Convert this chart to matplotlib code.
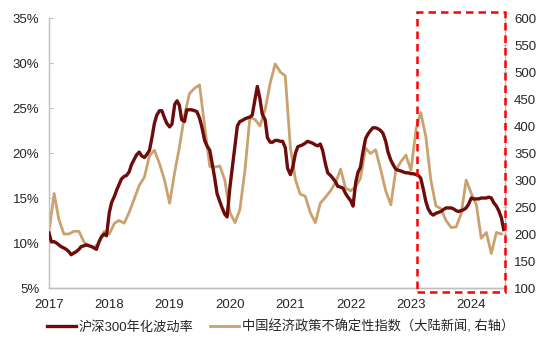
import matplotlib
matplotlib.use("Agg")
import matplotlib.pyplot as plt
import matplotlib.dates as mdates
import matplotlib.transforms as mtransforms
from matplotlib.patches import Rectangle
import pandas as pd

plt.rcParams['font.family'] = ['Liberation Sans', 'Noto Sans CJK SC', 'DejaVu Sans']

# 沪深300年化波动率, semi-monthly, %
vol = [11.1, 10.15, 10.15, 10.0, 9.8, 9.6, 9.45, 9.3, 9.05, 8.7,
       8.9, 9.04, 9.3, 9.6, 9.7, 9.78, 9.7, 9.6, 9.45, 9.3,
       10.2, 10.7, 11.0, 10.8, 13.4, 14.5, 15.2, 15.9, 16.5, 17.1,
       17.4, 17.5, 17.9, 18.7, 19.3, 19.8, 20.1, 19.7, 19.5, 19.8,
       20.3, 21.6, 23.3, 24.2, 24.7, 24.7, 23.9, 23.3, 22.9, 23.2,
       25.4, 25.8, 25.3, 23.7, 23.5, 24.8, 24.8, 24.8, 24.7, 24.6,
       23.9, 22.9, 21.4, 20.8, 20.3, 18.9, 17.2, 15.5, 14.6, 13.9,
       13.2, 12.9, 16.2, 18.3, 20.8, 23.0, 23.5, 23.6, 23.8, 23.9,
       24.0, 24.2, 26.0, 27.4, 26.0, 24.3, 23.7, 21.7, 21.2, 21.2,
       21.4, 21.4, 21.3, 21.3, 20.6, 18.3, 17.6, 18.4, 20.0, 20.7,
       20.8, 20.9, 21.1, 21.3, 21.2, 21.1, 20.9, 20.8, 21.0, 20.3,
       18.8, 17.8, 17.5, 17.2, 16.8, 16.3, 16.2, 16.1, 15.5, 15.1,
       14.7, 14.1, 16.8, 17.9, 18.4, 20.0, 21.6, 22.1, 22.5, 22.8,
       22.8, 22.7, 22.5, 22.2, 21.3, 20.1, 19.2, 18.7, 18.2, 18.1,
       18.0, 17.9, 17.8, 17.8, 17.7, 17.7, 17.6, 17.5, 17.2, 16.1,
       14.6, 13.8, 13.3, 13.1, 13.3, 13.4, 13.5, 13.7, 13.9, 13.9,
       13.9, 13.8, 13.6, 13.5, 13.6, 13.7, 13.9, 14.3, 15.0, 14.9,
       14.9, 14.9, 15.0, 15.0, 15.0, 15.1, 15.0, 14.5, 14.1, 13.6,
       12.8, 11.5]

# 中国经济政策不确定性指数（大陆新闻）, monthly
epu = [205, 275, 228, 200, 200, 205, 205, 185, 178, 175,
       185, 205, 200, 220, 225, 220, 240, 265, 290, 305,
       345, 355, 330, 300, 257, 315, 360, 420, 460, 470,
       476, 400, 325, 324, 326, 300, 240, 221, 245, 318,
       416, 412, 400, 430, 480, 515, 500, 493, 360, 300,
       274, 270, 240, 221, 257, 268, 280, 295, 320, 285,
       280, 288, 303, 359, 349, 356, 320, 280, 254, 318,
       334, 346, 318, 395, 425, 380, 300, 252, 247, 225,
       212, 213, 238, 300, 275, 254, 192, 203, 164, 203,
       200]

vol_dates = pd.date_range('2017-01-01', periods=len(vol), freq='SMS')
epu_dates = pd.date_range('2017-01-01', periods=len(epu), freq='MS')

dark = '#6E0B0B'
tan = '#C9A26F'
grey = '#BFBFBF'
txt = '#262626'

fig = plt.figure(figsize=(5.5, 3.43), dpi=100)
ax = fig.add_axes([0.0891, 0.1603, 0.8291, 0.7872])
ax2 = ax.twinx()

l1, = ax.plot(vol_dates, vol, color=dark, lw=2.4, zorder=3)
l2, = ax2.plot(epu_dates, epu, color=tan, lw=2.0, zorder=2)
ax.set_zorder(ax2.get_zorder() + 1)
ax.patch.set_visible(False)

ax.set_xlim(pd.Timestamp('2017-01-01'), pd.Timestamp('2024-07-23'))
ax.set_ylim(5, 35)
ax.set_yticks(range(5, 36, 5))
ax.set_yticklabels([f'{v}%' for v in range(5, 36, 5)])
ax2.set_ylim(100, 600)
ax2.set_yticks(range(100, 601, 50))

ax.xaxis.set_major_locator(mdates.YearLocator())
ax.xaxis.set_major_formatter(mdates.DateFormatter('%Y'))

for a in (ax, ax2):
    for s in a.spines.values():
        s.set_color(grey)
        s.set_linewidth(1.0)
    a.spines['top'].set_visible(False)
ax.spines['right'].set_visible(False)
ax2.spines['left'].set_visible(False)

ax.tick_params(axis='x', length=0, labelsize=9.5, colors=txt, pad=8)
ax.tick_params(axis='y', length=3, direction='in', color=grey, labelsize=9.5,
               labelcolor=txt, pad=7)
ax2.tick_params(axis='y', length=3, direction='inout', color=grey, labelsize=9.5,
                labelcolor=txt, pad=5)

# dashed box marking the recent period
trans = mtransforms.blended_transform_factory(ax.transData, ax.transAxes)
x0 = mdates.date2num(pd.Timestamp('2023-02-04'))
x1 = mdates.date2num(pd.Timestamp('2024-07-23'))
box = Rectangle((x0, -0.014), x1 - x0, 1.036, transform=trans, fill=False,
                edgecolor='#FF0000', lw=1.8, ls=(0, (3, 2)), clip_on=False,
                zorder=10)
ax.add_patch(box)

fig.legend([l1, l2], ['沪深300年化波动率', '中国经济政策不确定性指数（大陆新闻, 右轴）'],
           loc='center', bbox_to_anchor=(0.51, 0.046), ncol=2, frameon=False,
           fontsize=9.5, handlelength=2.2, handletextpad=0.25, columnspacing=1.2,
           labelcolor=txt)

fig.savefig('out.png', dpi=100)
